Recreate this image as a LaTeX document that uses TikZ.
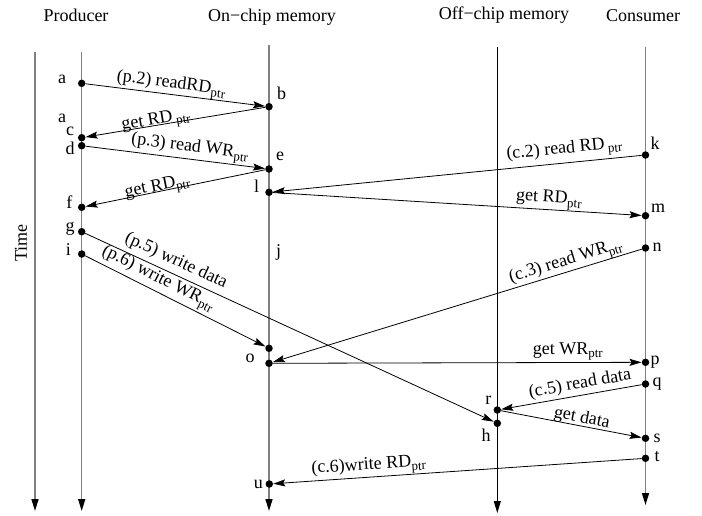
\documentclass[tikz,border=0pt]{standalone}
\usepackage{fontspec}
\setmainfont{Liberation Serif}
\usetikzlibrary{arrows.meta}
\newcommand{\ptrsub}{\raisebox{-4pt}{\fontsize{13}{13}\selectfont ptr}}
\begin{document}
\begin{tikzpicture}[x=1pt,y=-1pt,
  font=\fontsize{18}{21}\selectfont,
  life/.style={draw={rgb,255:red,128;green,128;blue,128}, line width=1.5pt,
     -{Triangle[length=12pt,width=7pt,color=black]}},
  lifeoff/.style={draw=black, line width=1pt,
     -{Triangle[length=12pt,width=7pt,color=black]}},
  dot/.style={circle, fill=black, inner sep=0pt, minimum size=7.5pt},
  lbl/.style={inner sep=0pt},
  msg/.style={draw=black, line width=0.8pt, -{Stealth[length=12pt,width=7pt,inset=2pt]}},
  mlab/.style={sloped, anchor=center, inner sep=0pt},
  title/.style={anchor=base, inner sep=0pt}]
\useasboundingbox (0,0) rectangle (702,515);

% titles
\node[title] (tP) at (76,21.7) {Producer};
\node[title] (tO) at (272,21.7) {On−chip memory};
\node[title] (tF) at (504,19.3) {Off−chip memory};
\node[title] (tC) at (643,21.7) {Consumer};
\node[lbl, rotate=90] (tT) at (21,243) {Time};

% lifelines
\coordinate (T0) at (35,52);    \coordinate (T1) at (35,511);
\coordinate (P0) at (81.7,52);  \coordinate (P1) at (81.7,511);
\coordinate (O0) at (269,45);   \coordinate (O1) at (269,511);
\coordinate (F0) at (497.3,47); \coordinate (F1) at (497.3,513);
\coordinate (C0) at (645.5,47); \coordinate (C1) at (645.5,505);
\draw[life] (T0) -- (T1);
\draw[life] (P0) -- (P1);
\draw[life] (O0) -- (O1);
\draw[lifeoff] (F0) -- (F1);
\draw[life] (C0) -- (C1);

% event dots
\node[dot] (dA) at (81.7,83.3) {};
\node[dot] (dB) at (269,106.7) {};
\node[dot] (dC) at (81.7,137.7) {};
\node[dot] (dD) at (81.7,145.7) {};
\node[dot] (dE) at (269,169) {};
\node[dot] (dL) at (269,192.3) {};
\node[dot] (dF) at (81.7,207.3) {};
\node[dot] (dG) at (81.7,231.7) {};
\node[dot] (dI) at (81.7,254) {};
\node[dot] (dK) at (645.5,155) {};
\node[dot] (dM) at (645.5,215.7) {};
\node[dot] (dN) at (645.5,248) {};
\node[dot] (dW) at (269,348.3) {};
\node[dot] (dO) at (269,363.3) {};
\node[dot] (dP) at (645.5,362.3) {};
\node[dot] (dQ) at (645.5,384) {};
\node[dot] (dR) at (497.3,410) {};
\node[dot] (dH) at (497.3,423.3) {};
\node[dot] (dS) at (645.5,438.3) {};
\node[dot] (dT) at (645.5,458.3) {};
\node[dot] (dU) at (269.3,484) {};

% letters
\node[lbl] (la)  at (62,79) {a};
\node[lbl] (lb)  at (281.7,93) {b};
\node[lbl] (la2) at (62,118) {a};
\node[lbl] (lc)  at (70,131.7) {c};
\node[lbl] (ld)  at (70,148) {d};
\node[lbl] (le)  at (280,156.7) {e};
\node[lbl] (ll)  at (256.7,186.7) {l};
\node[lbl] (lf)  at (69.3,201.7) {f};
\node[lbl] (lg)  at (70,229) {g};
\node[lbl] (li)  at (68.3,250) {i};
\node[lbl] (lj)  at (278.5,252) {j};
\node[lbl] (lk)  at (655,143) {k};
\node[lbl] (lm)  at (658,208) {m};
\node[lbl] (ln)  at (657,247) {n};
\node[lbl] (lo)  at (250,358) {o};
\node[lbl] (lp)  at (655,362) {p};
\node[lbl] (lq)  at (657,384) {q};
\node[lbl] (lr)  at (488.3,400.7) {r};
\node[lbl] (lh)  at (486,435) {h};
\node[lbl] (ls)  at (657,438) {s};
\node[lbl] (lt)  at (657,456.7) {t};
\node[lbl] (lu)  at (258.3,484) {u};

% messages
\draw[msg] (dA) -- node[mlab, pos=0.47, yshift=9.4pt] {(p.2) readRD\ptrsub} (dB);
\draw[msg] (dB) -- node[mlab, pos=0.604, yshift=3.6pt] {get RD\,\ptrsub} (dC);
\draw[msg] (dD) -- node[mlab, pos=0.573, yshift=10.9pt] {(p.3) read WR\ptrsub} (dE);
\draw[msg] (dE) -- node[mlab, pos=0.595, yshift=3.4pt] {get RD\ptrsub} (dF);
\draw[msg] (dK) -- node[mlab, pos=0.206, yshift=12.6pt] {(c.2) read RD\,\ptrsub} (dL);
\draw[msg] (dL) -- node[mlab, pos=0.747, yshift=9.8pt] {get RD\ptrsub} (dM);
\draw[msg] (dG) -- node[mlab, pos=0.209, yshift=13pt] {(p.5) write data} (dH);
\draw[msg] (dI) -- node[mlab, pos=0.374, yshift=11.5pt] {(p.6) write WR\ptrsub} (dW);
\draw[msg] (dN) -- node[mlab, pos=0.198, yshift=9.4pt] {(c.3) read WR\ptrsub} (dO);
\draw[msg] (dO) -- node[mlab, pos=0.8, yshift=11pt] {get WR\ptrsub} (dP);
\draw[msg] (dQ) -- node[mlab, pos=0.425, yshift=11.2pt] {(c.5) read data} (dR);
\draw[msg] (dR) -- node[mlab, pos=0.564, yshift=7.8pt] {get data} (dS);
\draw[msg] (dT) -- node[mlab, pos=0.739, yshift=10.6pt] {(c.6)write RD\ptrsub} (dU);
\end{tikzpicture}
\end{document}
